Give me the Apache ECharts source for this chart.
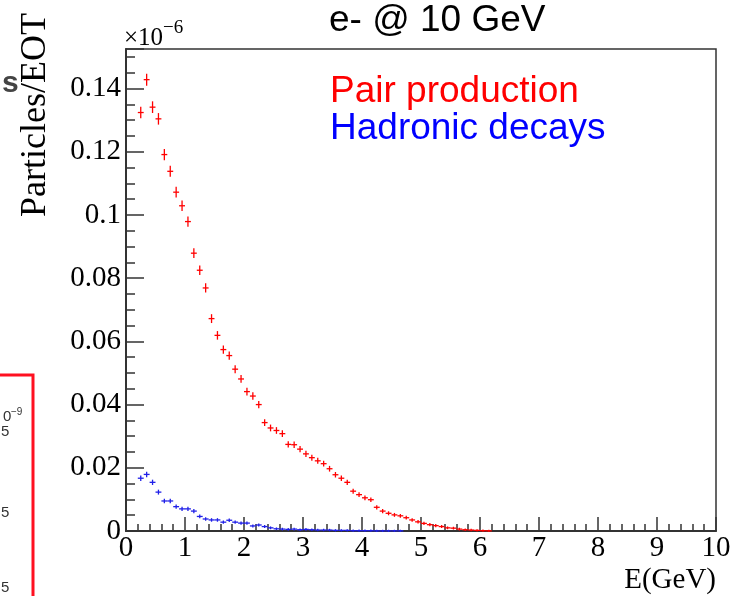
<!DOCTYPE html>
<html>
<head>
<meta charset="utf-8">
<script src="https://cdn.jsdelivr.net/npm/echarts@6/dist/echarts.min.js"></script>
<style>html,body{margin:0;padding:0;background:#fff}#c{width:746px;height:596px}</style>
</head>
<body>
<div id="c"></div>
<script>
// ---- data (values in units of 1e-6 particles/EOT) ----
const binWidth = 0.1;
const pairE = [0.25,0.35,0.45,0.55,0.65,0.75,0.85,0.95,1.05,1.15,1.25,1.35,1.45,1.55,1.65,1.75,1.85,1.95,2.05,2.15,2.25,2.35,2.45,2.55,2.65,2.75,2.85,2.95,3.05,3.15,3.25,3.35,3.45,3.55,3.65,3.75,3.85,3.95,4.05,4.15,4.25,4.35,4.45,4.55,4.65,4.75,4.85,4.95,5.05,5.15,5.25,5.35,5.45,5.55,5.65,5.75,5.85,5.95,6.05,6.15];
const pairVals = [0.1324,0.1428,0.1341,0.1304,0.1191,0.1138,0.1072,0.1029,0.0979,0.0879,0.0825,0.0769,0.0672,0.0619,0.0574,0.0555,0.0512,0.0481,0.0441,0.0427,0.0400,0.0343,0.0326,0.0318,0.0308,0.0274,0.0273,0.0259,0.0244,0.0232,0.0222,0.0213,0.0197,0.0178,0.0167,0.0154,0.0126,0.0115,0.0105,0.0099,0.0075,0.0063,0.0056,0.0051,0.0048,0.0042,0.0035,0.0029,0.0024,0.0020,0.0017,0.0014,0.0010,0.0009,0.0006,0.0004,0.0003,0.0002,0.0001,0.00005];
const hadE = [0.25,0.35,0.45,0.55,0.65,0.75,0.85,0.95,1.05,1.15,1.25,1.35,1.45,1.55,1.65,1.75,1.85,1.95,2.05,2.15,2.25,2.35,2.45,2.55,2.65,2.75,2.85,2.95,3.05,3.15,3.25,3.35,3.45,3.55,3.65,3.75,3.85,3.95,4.05,4.15,4.25,4.35,4.45,4.55,4.65];
const hadVals = [0.0167,0.0179,0.0154,0.0123,0.0095,0.0095,0.0077,0.0070,0.0070,0.0063,0.0046,0.0038,0.0035,0.0035,0.0028,0.0034,0.0028,0.0025,0.0025,0.0016,0.0019,0.0014,0.0010,0.0007,0.0006,0.0005,0.0006,0.0004,0.0005,0.0004,0.0003,0.0003,0.0003,0.0002,0.0002,0.0002,0.0001,0.0001,0.0001,0.0001,0.00005,0.00005,0.00005,0.00005,0.00005];
const xMin = 0, xMax = 10, xStep = 1;
const yMin = 0, yMax = 0.1525, yStep = 0.02, yMinorStep = 0.005;
const titleText = 'e- @ 10 GeV';
const legendPair = 'Pair production';
const legendHad = 'Hadronic decays';
const xTitle = 'E(GeV)';
const yTitle = 'Particles/EOT';

const chart = echarts.init(document.getElementById('c'), null, {renderer:'canvas'});
const serif = 'Liberation Serif';
const axisCol = '#333';

function crossItem(color){
  return function(params, api){
    const x = api.value(0), y = api.value(1);
    const p = api.coord([x, y]);
    const hw = api.size([binWidth, 0])[0] / 2;
    const hh = 1 + 5 * Math.sqrt(Math.max(y,0) / 0.143);
    const st = {stroke: color, lineWidth: 1.3};
    return {type:'group', children:[
      {type:'line', shape:{x1:p[0]-hw, y1:p[1], x2:p[0]+hw, y2:p[1]}, style:st},
      {type:'line', shape:{x1:p[0], y1:p[1]-hh, x2:p[0], y2:p[1]+hh}, style:st}
    ]};
  };
}

const option = {
  animation:false,
  backgroundColor:'#fff',
  grid:{left:126, right:30, top:49, bottom:65, show:true, borderColor:axisCol, borderWidth:1.5, backgroundColor:'transparent'},
  xAxis:{
    type:'value', min:xMin, max:xMax, interval:xStep,
    axisLine:{show:true, lineStyle:{color:axisCol, width:2}},
    axisTick:{show:true, inside:true, length:14, lineStyle:{color:axisCol, width:1.5}},
    minorTick:{show:true, splitNumber:5, length:7, lineStyle:{color:axisCol, width:1.5}},
    splitLine:{show:false},
    axisLabel:{color:'#000', fontFamily:serif, fontSize:29, margin:3,
      formatter: v => String(Math.round(v))}
  },
  yAxis:[{
    type:'value', min:yMin, max:yMax, interval:yMinorStep,
    axisLine:{show:true, lineStyle:{color:axisCol, width:2}},
    axisTick:{show:true, inside:true, length:9, lineStyle:{color:axisCol, width:1.5}},
    splitLine:{show:false},
    axisLabel:{show:false}
  },{
    type:'value', min:yMin, max:yMax, interval:yStep, position:'left', offset:0,
    axisLine:{show:false},
    axisTick:{show:true, inside:true, length:18, lineStyle:{color:axisCol, width:1.5}},
    splitLine:{show:false},
    axisLabel:{color:'#000', fontFamily:serif, fontSize:29, margin:5,
      formatter: v => {
        const r = Math.round(v/yStep);
        if (Math.abs(v - r*yStep) > 1e-9) return '';
        return String(Math.round(v*1000)/1000);
      }}
  }],
  series:[
    {type:'custom', name:legendPair, renderItem:crossItem('#ff0000'), data: pairE.map((e,i)=>[e, pairVals[i]]), clip:false, z:3},
    {type:'custom', name:legendHad, renderItem:crossItem('#2020e8'), data: hadE.map((e,i)=>[e, hadVals[i]]), clip:false, z:2}
  ],
  graphic:[
    {type:'text', x:329, y:21, style:{text:titleText, fill:'#000', font:'37px "Liberation Sans"', verticalAlign:'middle', align:'left'}},
    {type:'text', x:330, y:92, style:{text:legendPair, fill:'#ff0000', font:'37px "Liberation Sans"', verticalAlign:'middle', align:'left'}},
    {type:'text', x:330, y:129, style:{text:legendHad, fill:'#0000ff', font:'37px "Liberation Sans"', verticalAlign:'middle', align:'left'}},
    {type:'text', x:124, y:38, style:{text:'×10', fill:'#000', font:'25px "Liberation Serif"', verticalAlign:'middle', align:'left'}},
    {type:'text', x:163, y:28, style:{text:'−6', fill:'#000', font:'19px "Liberation Serif"', verticalAlign:'middle', align:'left'}},
    {type:'text', x:716, y:580, style:{text:xTitle, fill:'#000', font:'29px "Liberation Serif"', verticalAlign:'middle', align:'right'}},
    {type:'text', x:36, y:13, rotation:Math.PI/2, style:{text:yTitle, fill:'#000', font:'36px "Liberation Serif"', verticalAlign:'middle', align:'right'}},
    // remnants of neighbouring slide content at the left edge
    {type:'text', x:2, y:84, style:{text:'s', fill:'#444', font:'bold 30px "Liberation Sans"', verticalAlign:'middle', align:'left'}},
    {type:'polyline', shape:{points:[[0,375],[33,375],[33,600]]}, style:{stroke:'#ff1020', lineWidth:3, fill:null}},
    {type:'text', x:3, y:417, style:{text:'0', fill:'#333', font:'15px "Liberation Sans"', verticalAlign:'middle', align:'left'}},
    {type:'text', x:11, y:412, style:{text:'−9', fill:'#333', font:'10px "Liberation Sans"', verticalAlign:'middle', align:'left'}},
    {type:'text', x:1, y:432, style:{text:'5', fill:'#333', font:'15px "Liberation Sans"', verticalAlign:'middle', align:'left'}},
    {type:'text', x:1, y:513, style:{text:'5', fill:'#333', font:'15px "Liberation Sans"', verticalAlign:'middle', align:'left'}},
    {type:'text', x:1, y:588, style:{text:'5', fill:'#333', font:'15px "Liberation Sans"', verticalAlign:'middle', align:'left'}}
  ]
};
chart.setOption(option);
</script>
</body>
</html>
